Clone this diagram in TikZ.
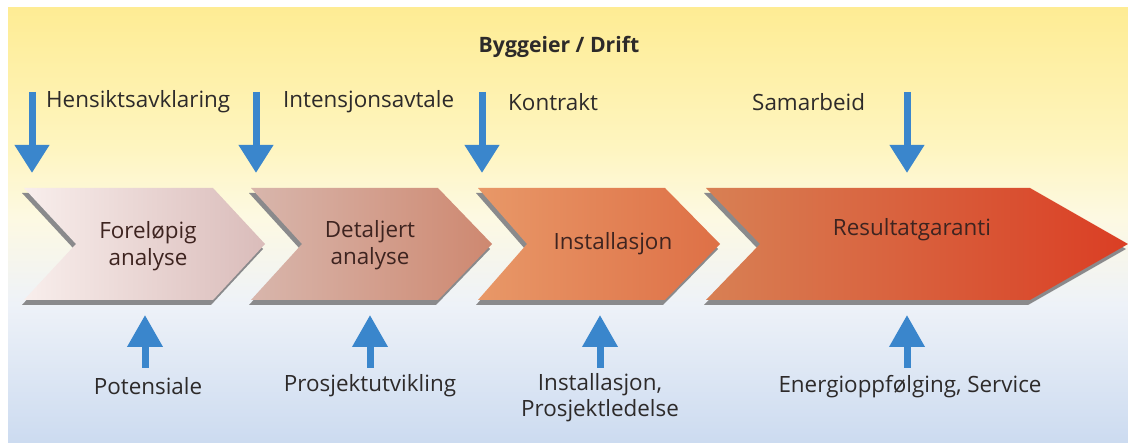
\documentclass[tikz,border=0pt]{standalone}
\usepackage{fontspec}
\setmainfont{Open Sans}
\usetikzlibrary{arrows.meta}

\definecolor{bgtop}{RGB}{254,236,148}
\definecolor{bga}{RGB}{254,245,192}
\definecolor{bgb}{RGB}{253,249,226}
\definecolor{bgc}{RGB}{238,242,248}
\definecolor{bgbot}{RGB}{204,219,240}
\definecolor{arrblue}{RGB}{58,134,204}
\definecolor{txt}{RGB}{45,42,42}
\definecolor{chtxt}{RGB}{62,36,32}
\definecolor{shadowgray}{RGB}{138,138,140}
\definecolor{c1l}{RGB}{248,238,236}
\definecolor{c1r}{RGB}{218,188,186}
\definecolor{c2l}{RGB}{216,182,172}
\definecolor{c2r}{RGB}{206,136,112}
\definecolor{c3l}{RGB}{232,152,104}
\definecolor{c3r}{RGB}{222,112,70}
\definecolor{c4l}{RGB}{216,128,84}
\definecolor{c4r}{RGB}{218,62,36}

\pgfdeclareverticalshading{bgshade}{100bp}{%
  color(0bp)=(bgbot); color(25bp)=(bgbot); color(41bp)=(bgc);
  color(51bp)=(bgb); color(59bp)=(bga); color(75bp)=(bgtop); color(100bp)=(bgtop)}

% one process step: name, left x, notch x, upper-right x, tip x, left colour, right colour
\newcommand\processstep[7]{%
  \fill[shadowgray, shift={(-2,5)}]
    (#2,188) -- (#4,188) -- (#5,244) -- (#4,300) -- (#2,300) -- (#3,244) -- cycle;
  \shade[left color=#6, right color=#7]
    (#2,188) -- (#4,188) -- (#5,244) -- (#4,300) -- (#2,300) -- (#3,244) -- cycle;
  \coordinate (#1) at ({(#3+#4)/2},244);
}

\begin{document}
\begin{tikzpicture}[x=1bp, y=-1bp,
  lbl/.style={font=\fontsize{22.5}{26}\selectfont, text=txt, inner sep=0pt, align=center},
  chlbl/.style={lbl, font=\fontsize{22.5}{27.5}\selectfont, text=chtxt},
  ttl/.style={font=\bfseries\fontsize{21.3}{24}\selectfont, text=txt, inner sep=0pt},
  downarr/.style={draw=arrblue, line width=7bp, -{Triangle[width=33bp,length=28bp]}},
  uparr/.style={draw=arrblue, line width=7bp, -{Triangle[width=34bp,length=32bp]}}]

\useasboundingbox (0,0) rectangle (1128,443);
\shade[shading=bgshade] (8,8) rectangle (1128,443);

% process steps
\processstep{s1}{24}{76}{213}{265}{c1l}{c1r}
\processstep{s2}{251}{302}{438}{492}{c2l}{c2r}
\processstep{s3}{478}{527}{665}{720}{c3l}{c3r}
\processstep{s4}{706}{760}{1030}{1128}{c4l}{c4r}

\node[chlbl] (l1) at (148,246) {Foreløpig\\analyse};
\node[chlbl] (l2) at (370,245) {Detaljert\\analyse};
\node[chlbl] (l3) at (613,244) {Installasjon};
\node[chlbl] (l4) at (912,230) {Resultatgaranti};

% heading and upper labels
\node[ttl] (title) at (559,47) {Byggeier / Drift};
\node[lbl, anchor=west] (t1) at (46,102) {Hensiktsavklaring};
\node[lbl, anchor=west] (t2) at (283,102) {Intensjonsavtale};
\node[lbl, anchor=west] (t3) at (508,102) {Kontrakt};
\node[lbl, anchor=west] (t4) at (752,102) {Samarbeid};

% downward arrows
\coordinate (d1s) at (32,92);  \coordinate (d1e) at (32,173);
\coordinate (d2s) at (256,92); \coordinate (d2e) at (256,173);
\coordinate (d3s) at (482,92); \coordinate (d3e) at (482,173);
\coordinate (d4s) at (907,92); \coordinate (d4e) at (907,173);
\draw[downarr] (d1s) -- (d1e);
\draw[downarr] (d2s) -- (d2e);
\draw[downarr] (d3s) -- (d3e);
\draw[downarr] (d4s) -- (d4e);

% lower labels
\node[lbl] (b1) at (148,386) {Potensiale};
\node[lbl] (b2) at (370,386) {Prosjektutvikling};
\node[lbl] (b3) at (600,398) {Installasjon,\\Prosjektledelse};
\node[lbl] (b4) at (910,387) {Energioppfølging, Service};

% upward arrows
\coordinate (u1s) at (145,368); \coordinate (u1e) at (145,315);
\coordinate (u2s) at (370,368); \coordinate (u2e) at (370,315);
\coordinate (u3s) at (600,368); \coordinate (u3e) at (600,315);
\coordinate (u4s) at (907,368); \coordinate (u4e) at (907,315);
\draw[uparr] (u1s) -- (u1e);
\draw[uparr] (u2s) -- (u2e);
\draw[uparr] (u3s) -- (u3e);
\draw[uparr] (u4s) -- (u4e);
\end{tikzpicture}
\end{document}
